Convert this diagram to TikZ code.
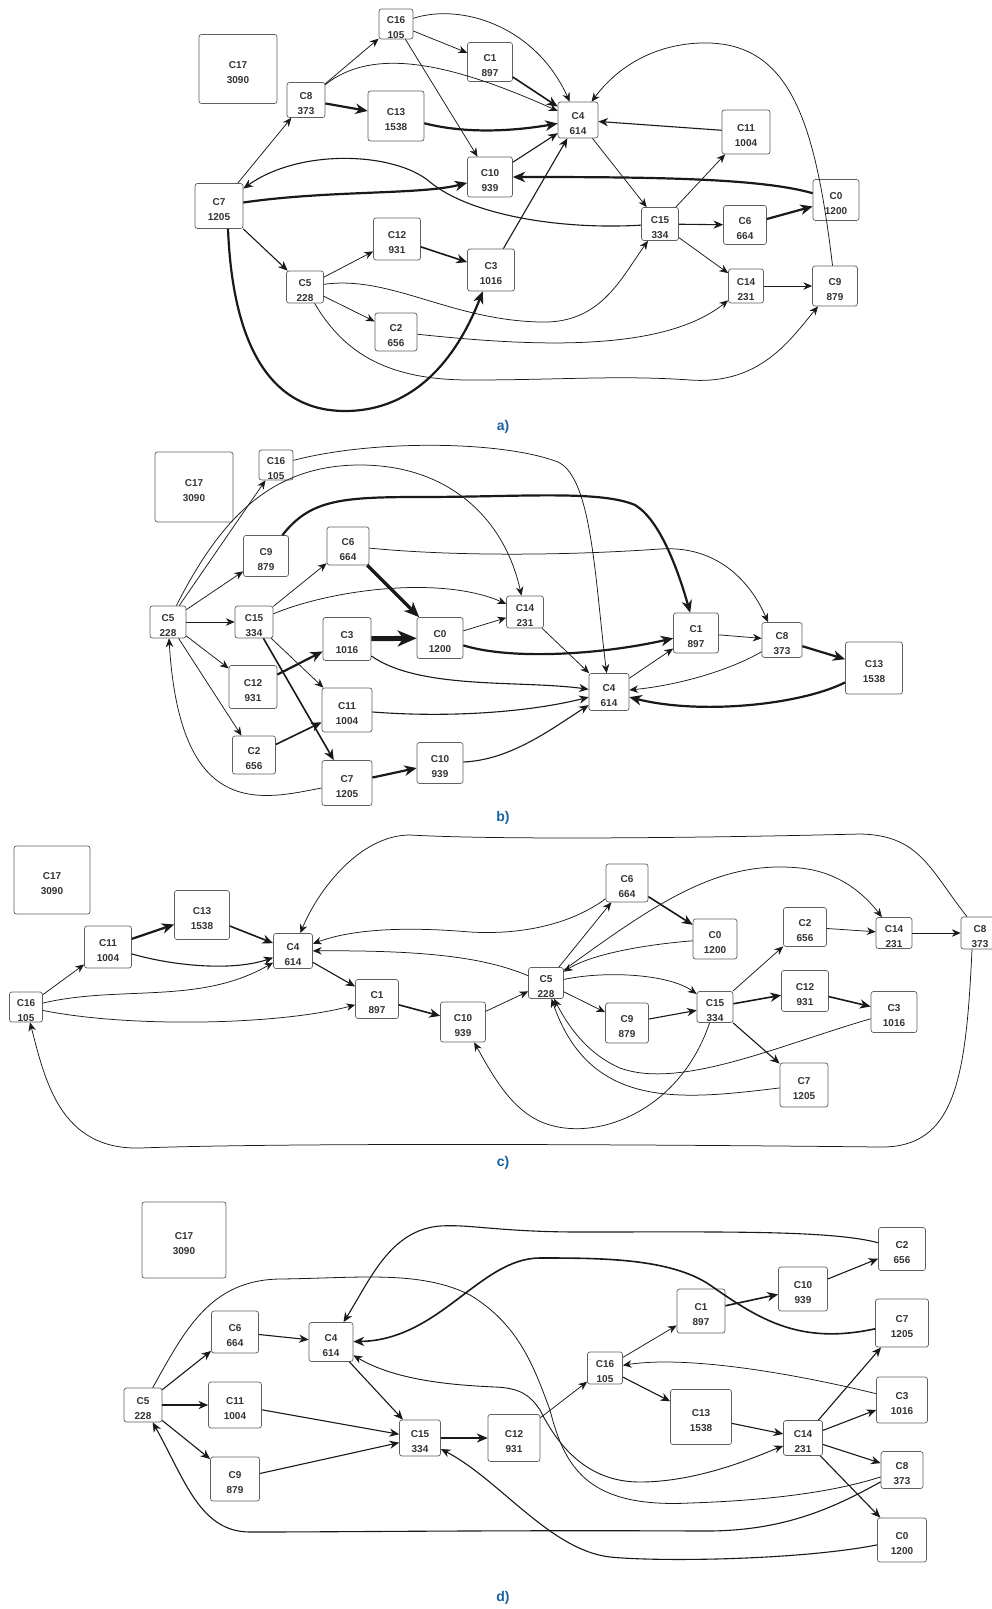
\documentclass[tikz,border=0pt]{standalone}
\usepackage{fontspec}
\setmainfont{Liberation Sans}
\usetikzlibrary{arrows.meta}
\definecolor{capblue}{RGB}{24,98,160}
\definecolor{boxline}{RGB}{95,95,95}
\definecolor{ink}{RGB}{25,25,25}
% two-line cluster label, lowered a little inside its box
\newcommand\cstack[2]{\raisebox{-3.5pt}[\height][\depth]{\begin{tabular}{@{}c@{}}#1\\#2\end{tabular}}}
\tikzset{
  cstip/.tip={Stealth[length=7pt 2.4, width=6pt 2, inset=2.4pt 0.6]},
  cbox/.style 2 args={draw=boxline, line width=0.7pt, rounded corners=2.5pt, fill=white,
    inner sep=0pt, minimum width=#1, minimum height=#2,
    font=\fontsize{10}{15}\selectfont\bfseries, text=black!80},
  wire/.style={draw=ink, -cstip},
  e0/.style={wire, line width=0.75pt},
  e1/.style={wire, line width=1.1pt},
  e2/.style={wire, line width=1.6pt},
  e3/.style={wire, line width=2.2pt},
  e4/.style={wire, line width=3.4pt},
  e5/.style={wire, line width=5pt},
  bothway/.style={draw=ink, cstip-cstip, line width=0.9pt},
  plainwire/.style={draw=ink, line width=0.8pt},
  panellabel/.style={font=\fontsize{14}{16}\selectfont\bfseries, text=capblue}
}
\begin{document}
\begin{tikzpicture}[x=1pt,y=-1pt]
\fill[white] (0,0) rectangle (991,1609);
\useasboundingbox (0,0) rectangle (991,1609);

% ---------------- a) ----------------
\node[cbox={78pt}{69pt}] (aC17) at (238,69) {\cstack{C17}{3090}};
\node[cbox={34pt}{30pt}] (aC16) at (396,24) {\cstack{C16}{105}};
\node[cbox={45pt}{39pt}] (aC1) at (490,62) {\cstack{C1}{897}};
\node[cbox={38pt}{35pt}] (aC8) at (306,100) {\cstack{C8}{373}};
\node[cbox={56pt}{50pt}] (aC13) at (396,116) {\cstack{C13}{1538}};
\node[cbox={45pt}{40pt}] (aC10) at (490,177) {\cstack{C10}{939}};
\node[cbox={48pt}{45pt}] (aC7) at (219,206) {\cstack{C7}{1205}};
\node[cbox={47pt}{42pt}] (aC12) at (397,239) {\cstack{C12}{931}};
\node[cbox={47pt}{42pt}] (aC3) at (491,270) {\cstack{C3}{1016}};
\node[cbox={37pt}{32pt}] (aC5) at (305,287) {\cstack{C5}{228}};
\node[cbox={42pt}{38pt}] (aC2) at (396,332) {\cstack{C2}{656}};
\node[cbox={40pt}{36pt}] (aC4) at (578,120) {\cstack{C4}{614}};
\node[cbox={48pt}{44pt}] (aC11) at (746,132) {\cstack{C11}{1004}};
\node[cbox={46pt}{41pt}] (aC0) at (836,200) {\cstack{C0}{1200}};
\node[cbox={37pt}{33pt}] (aC15) at (660,224) {\cstack{C15}{334}};
\node[cbox={43pt}{39pt}] (aC6) at (745,225) {\cstack{C6}{664}};
\node[cbox={35pt}{34pt}] (aC14) at (746,286) {\cstack{C14}{231}};
\node[cbox={45pt}{40pt}] (aC9) at (835,286) {\cstack{C9}{879}};
\node[panellabel] (capA) at (503,427) {a)};

\draw[e0] (aC16) -- (aC1);
\draw[e0] (aC16) .. controls (460,3) and (535,25) .. (aC4);
\draw[e0] (aC16) -- (aC10);
\draw[e0] (aC8) -- (aC16);
\draw[e0] (aC8) .. controls (375,45) and (455,65) .. (aC4);
\draw[e3] (aC8) -- (aC13);
\draw[e3] (aC13) .. controls (470,135) and (520,130) .. (aC4);
\draw[e2] (aC1) -- (aC4);
\draw[e1] (aC10) -- (aC4);
\draw[e1] (aC3) -- (aC4);
\draw[e0] (aC7) -- (aC8);
\draw[e3] (aC7) .. controls (330,190) and (420,195) .. (aC10);
\draw[e1] (aC15) .. controls (560,230) and (470,215) .. (430,182) .. controls (395,152) and (300,148) .. (aC7);
\draw[e3] (aC0) .. controls (760,178) and (650,177) .. (aC10);
\draw[e1] (aC7) -- (aC5);
\draw[e3] ([xshift=9pt]aC7.south) .. controls (232,330) and (262,411) .. (345,411) .. controls (420,411) and (460,350) .. (aC3);
\draw[e0] (aC5) -- (aC12);
\draw[e0] (aC5) -- (aC2);
\draw[e2] (aC12) -- (aC3);
\draw[e0] (aC5) .. controls (390,275) and (450,320) .. (540,322) .. controls (600,324) and (620,280) .. (aC15);
\draw[e0] (aC2) .. controls (520,345) and (660,355) .. (aC14);
\draw[e0] (aC5) .. controls (345,355) and (390,380) .. (470,380) .. controls (560,380) and (620,375) .. (690,380) .. controls (760,385) and (790,340) .. (aC9);
\draw[e0] (aC4) -- (aC15);
\draw[e1] (aC11) -- (aC4);
\draw[e0] (aC15) -- (aC11);
\draw[e1] (aC15) -- (aC6);
\draw[e0] (aC15) -- (aC14);
\draw[e3] (aC6) -- (aC0);
\draw[e0] (aC14) -- (aC9);
\draw[e0] (aC9) .. controls (815,120) and (790,40) .. (700,43) .. controls (650,45) and (615,70) .. (aC4);

% ---------------- b) ----------------
\node[cbox={78pt}{70pt}] (bC17) at (194,487) {\cstack{C17}{3090}};
\node[cbox={34pt}{30pt}] (bC16) at (276,465) {\cstack{C16}{105}};
\node[cbox={45pt}{41pt}] (bC9) at (266,556) {\cstack{C9}{879}};
\node[cbox={42pt}{38pt}] (bC6) at (348,546) {\cstack{C6}{664}};
\node[cbox={36pt}{32pt}] (bC5) at (168,622) {\cstack{C5}{228}};
\node[cbox={38pt}{32pt}] (bC15) at (254,622) {\cstack{C15}{334}};
\node[cbox={48pt}{43pt}] (bC3) at (347,639) {\cstack{C3}{1016}};
\node[cbox={46pt}{41pt}] (bC0) at (440,638) {\cstack{C0}{1200}};
\node[cbox={37pt}{32pt}] (bC14) at (525,612) {\cstack{C14}{231}};
\node[cbox={48pt}{43pt}] (bC12) at (253,687) {\cstack{C12}{931}};
\node[cbox={50pt}{44pt}] (bC11) at (347,710) {\cstack{C11}{1004}};
\node[cbox={43pt}{38pt}] (bC2) at (254,755) {\cstack{C2}{656}};
\node[cbox={50pt}{45pt}] (bC7) at (347,783) {\cstack{C7}{1205}};
\node[cbox={46pt}{41pt}] (bC10) at (440,763) {\cstack{C10}{939}};
\node[cbox={45pt}{40pt}] (bC1) at (696,633) {\cstack{C1}{897}};
\node[cbox={40pt}{35pt}] (bC8) at (782,640) {\cstack{C8}{373}};
\node[cbox={57pt}{52pt}] (bC13) at (874,668) {\cstack{C13}{1538}};
\node[cbox={40pt}{37pt}] (bC4) at (609,692) {\cstack{C4}{614}};
\node[panellabel] (capB) at (503,818) {b)};

\draw[e0] (bC5) -- (bC16);
\draw[e0] (bC5) .. controls (220,520) and (270,465) .. (360,465) .. controls (450,465) and (505,520) .. (bC14);
\draw[e0] (bC16) .. controls (370,440) and (500,440) .. (558,462) .. controls (592,478) and (595,580) .. (bC4);
\draw[e3] (bC9) .. controls (310,500) and (340,497) .. (420,497) .. controls (520,497) and (600,490) .. (635,505) .. controls (660,520) and (678,570) .. (bC1);
\draw[e0] (bC6) .. controls (450,556) and (560,556) .. (660,549) .. controls (720,545) and (752,585) .. ([xshift=-14pt]bC8.north);
\draw[e0] (bC15) .. controls (330,590) and (440,575) .. (bC14);
\draw[e0] (bC15) -- (bC6);
\draw[e4] (bC6) -- (bC0);
\draw[e5] (bC3) -- (bC0);
\draw[e0] (bC0) -- (bC14);
\draw[e3] (bC0) .. controls (510,660) and (600,655) .. (bC1);
\draw[e0] (bC14) -- (bC4);
\draw[e1] (bC3) .. controls (420,690) and (520,680) .. (bC4);
\draw[e1] (bC11) .. controls (450,718) and (530,712) .. (bC4);
\draw[e1] (bC10) .. controls (510,760) and (550,730) .. (bC4);
\draw[e0] (bC15) -- (bC11);
\draw[e2] (bC15) -- (bC7);
\draw[e3] (bC12) -- (bC3);
\draw[e2] (bC2) -- (bC11);
\draw[e3] (bC7) -- (bC10);
\draw[e0] (bC7) .. controls (260,800) and (180,820) .. (bC5);
\draw[e0] (bC5) -- (bC9);
\draw[e0] (bC5) -- (bC15);
\draw[e0] (bC5) -- (bC12);
\draw[e0] (bC5) -- (bC2);
\draw[e0] (bC1) -- (bC8);
\draw[e3] (bC8) -- (bC13);
\draw[e3] (bC13) .. controls (800,705) and (700,715) .. (bC4);
\draw[e0] (bC8) .. controls (730,670) and (680,685) .. (bC4);
\draw[e0] (bC4) -- (bC1);

% ---------------- c) ----------------
\node[cbox={76pt}{68pt}] (cC17) at (52,880) {\cstack{C17}{3090}};
\node[cbox={47pt}{42pt}] (cC11) at (108,947) {\cstack{C11}{1004}};
\node[cbox={55pt}{49pt}] (cC13) at (202,915) {\cstack{C13}{1538}};
\node[cbox={39pt}{35pt}] (cC4) at (293,951) {\cstack{C4}{614}};
\node[cbox={33pt}{30pt}] (cC16) at (26,1007) {\cstack{C16}{105}};
\node[cbox={43pt}{39pt}] (cC1) at (377,999) {\cstack{C1}{897}};
\node[cbox={45pt}{40pt}] (cC10) at (463,1022) {\cstack{C10}{939}};
\node[cbox={42pt}{38pt}] (cC6) at (627,883) {\cstack{C6}{664}};
\node[cbox={44pt}{40pt}] (cC0) at (715,939) {\cstack{C0}{1200}};
\node[cbox={43pt}{39pt}] (cC2) at (805,927) {\cstack{C2}{656}};
\node[cbox={36pt}{31pt}] (cC14) at (894,933) {\cstack{C14}{231}};
\node[cbox={38pt}{32pt}] (cC8) at (980,933) {\cstack{C8}{373}};
\node[cbox={35pt}{31pt}] (cC5) at (546,983) {\cstack{C5}{228}};
\node[cbox={36pt}{31pt}] (cC15) at (715,1007) {\cstack{C15}{334}};
\node[cbox={43pt}{40pt}] (cC9) at (627,1023) {\cstack{C9}{879}};
\node[cbox={47pt}{41pt}] (cC12) at (805,991) {\cstack{C12}{931}};
\node[cbox={46pt}{41pt}] (cC3) at (894,1012) {\cstack{C3}{1016}};
\node[cbox={48pt}{44pt}] (cC7) at (804,1085) {\cstack{C7}{1205}};
\node[panellabel] (capC) at (503,1163) {c)};

\draw[e0] (cC16) -- (cC11);
\draw[e3] (cC11) -- (cC13);
\draw[e2] (cC13) -- (cC4);
\draw[e1] (cC11) .. controls (170,965) and (230,972) .. (cC4);
\draw[e0] (cC16) .. controls (120,985) and (200,1005) .. (cC4);
\draw[e0] (cC16) .. controls (130,1028) and (280,1025) .. (cC1);
\draw[e1] (cC4) -- (cC1);
\draw[e2] (cC1) -- (cC10);
\draw[e0] (cC10) -- (cC5);
\draw[e0] (cC6) .. controls (570,925) and (520,935) .. (470,932) .. controls (400,926) and (350,930) .. (cC4);
\draw[e0] (cC5) .. controls (490,960) and (440,950) .. (cC4);
\draw[e0] (cC8) .. controls (930,870) and (920,835) .. (860,834) .. controls (700,838) and (500,840) .. (410,835) .. controls (360,835) and (318,890) .. (cC4);
\draw[e0] (cC5) -- (cC6);
\draw[e2] (cC6) -- (cC0);
\draw[e0] (cC0) .. controls (640,945) and (590,955) .. (cC5);
\draw[e0] (cC5) .. controls (660,900) and (720,860) .. (800,868) .. controls (840,872) and (865,895) .. (cC14);
\draw[e0] (cC5) .. controls (610,970) and (670,975) .. (cC15);
\draw[e0] (cC5) -- (cC9);
\draw[e1] (cC9) -- (cC15);
\draw[e0] (cC15) -- (cC2);
\draw[e2] (cC15) -- (cC12);
\draw[e2] (cC12) -- (cC3);
\draw[e1] (cC15) -- (cC7);
\draw[e0] (cC2) -- (cC14);
\draw[e0] (cC14) -- (cC8);
\draw[e0] (cC3) .. controls (780,1045) and (680,1090) .. (620,1068) .. controls (590,1055) and (570,1030) .. (cC5);
\draw[e0] (cC7) .. controls (680,1100) and (590,1110) .. (cC5);
\draw[e0] (cC15) .. controls (680,1110) and (600,1140) .. (550,1125) .. controls (515,1115) and (495,1080) .. (cC10);
\draw[e0] ([xshift=-8pt]cC8.south) .. controls (966,1080) and (955,1148) .. (880,1147) .. controls (700,1145) and (300,1142) .. (140,1148) .. controls (60,1150) and (45,1080) .. (cC16);

% ---------------- d) ----------------
\node[cbox={84pt}{76pt}] (dC17) at (184,1240) {\cstack{C17}{3090}};
\node[cbox={47pt}{42pt}] (dC6) at (235,1332) {\cstack{C6}{664}};
\node[cbox={44pt}{39pt}] (dC4) at (331,1342) {\cstack{C4}{614}};
\node[cbox={38pt}{34pt}] (dC5) at (143,1405) {\cstack{C5}{228}};
\node[cbox={53pt}{46pt}] (dC11) at (235,1405) {\cstack{C11}{1004}};
\node[cbox={49pt}{44pt}] (dC9) at (235,1479) {\cstack{C9}{879}};
\node[cbox={41pt}{36pt}] (dC15) at (420,1438) {\cstack{C15}{334}};
\node[cbox={52pt}{47pt}] (dC12) at (514,1438) {\cstack{C12}{931}};
\node[cbox={35pt}{32pt}] (dC16) at (605,1368) {\cstack{C16}{105}};
\node[cbox={48pt}{44pt}] (dC1) at (701,1311) {\cstack{C1}{897}};
\node[cbox={61pt}{55pt}] (dC13) at (701,1417) {\cstack{C13}{1538}};
\node[cbox={49pt}{44pt}] (dC10) at (803,1289) {\cstack{C10}{939}};
\node[cbox={39pt}{35pt}] (dC14) at (803,1438) {\cstack{C14}{231}};
\node[cbox={47pt}{43pt}] (dC2) at (902,1249) {\cstack{C2}{656}};
\node[cbox={53pt}{48pt}] (dC7) at (902,1323) {\cstack{C7}{1205}};
\node[cbox={51pt}{46pt}] (dC3) at (902,1400) {\cstack{C3}{1016}};
\node[cbox={42pt}{37pt}] (dC8) at (902,1470) {\cstack{C8}{373}};
\node[cbox={49pt}{44pt}] (dC0) at (902,1540) {\cstack{C0}{1200}};
\node[panellabel] (capD) at (503,1598) {d)};

\draw[e1] (dC5) -- (dC6);
\draw[e1] (dC5) -- (dC11);
\draw[e1] (dC5) -- (dC9);
\draw[e1] (dC6) -- (dC4);
\draw[e1] (dC11) -- (dC15);
\draw[e1] (dC9) -- (dC15);
\draw[e1] (dC4) -- (dC15);
\draw[e2] (dC15) -- (dC12);
\draw[e0] (dC12) -- (dC16);
\draw[e0] (dC16) -- (dC1);
\draw[e1] (dC16) -- (dC13);
\draw[e2] (dC1) -- (dC10);
\draw[e1] (dC10) -- (dC2);
\draw[e1] (dC13) -- (dC14);
\draw[e1] (dC14) -- (dC7);
\draw[e1] (dC14) -- (dC3);
\draw[e1] (dC14) -- (dC8);
\draw[e1] (dC14) -- (dC0);
\draw[e0] (dC3) .. controls (800,1375) and (690,1355) .. (dC16);
\draw[e1] (dC2) .. controls (830,1230) and (720,1232) .. (580,1232) .. controls (500,1232) and (470,1224) .. (440,1226) .. controls (390,1230) and (370,1280) .. (dC4);
\draw[e2] (dC7) .. controls (800,1345) and (760,1320) .. (710,1285) .. controls (670,1258) and (600,1258) .. (540,1258) .. controls (480,1258) and (440,1340) .. (dC4);
\draw[e1] (dC0) .. controls (800,1560) and (660,1562) .. (610,1557) .. controls (550,1550) and (500,1480) .. (dC15);
\draw[e1] (dC8) .. controls (830,1510) and (780,1532) .. (700,1531) .. controls (500,1530) and (350,1532) .. (250,1532) .. controls (200,1532) and (185,1480) .. (dC5);
\draw[plainwire] (dC5) .. controls (185,1330) and (210,1280) .. (280,1279) .. controls (360,1278) and (420,1270) .. (470,1295) .. controls (520,1325) and (535,1370) .. (550,1410) .. controls (565,1470) and (590,1508) .. (690,1503) .. controls (780,1500) and (840,1490) .. (dC8);
\draw[bothway] (dC4) .. controls (395,1380) and (450,1385) .. (495,1387) .. controls (520,1388) and (530,1395) .. (540,1410) .. controls (560,1450) and (590,1482) .. (640,1482) .. controls (700,1482) and (760,1455) .. (dC14);
\end{tikzpicture}
\end{document}
